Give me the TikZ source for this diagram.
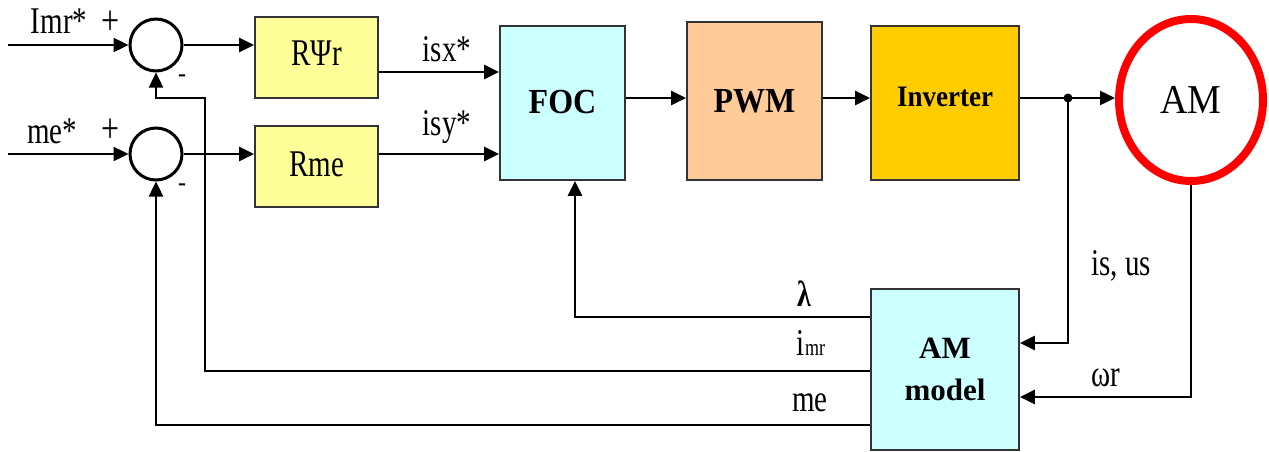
\documentclass[tikz,border=0pt]{standalone}
\usepackage{fontspec}
\usepackage{graphicx}
\setmainfont{Liberation Serif}
\usetikzlibrary{arrows.meta,shapes.geometric,calc}
\definecolor{ybox}{HTML}{FFFF99}
\definecolor{cbox}{HTML}{CCFFFF}
\definecolor{obox}{HTML}{FFCC99}
\definecolor{ibox}{HTML}{FFCC00}
\definecolor{boxline}{HTML}{333333}
\definecolor{amred}{HTML}{FF0000}
\newcommand{\stretchtxt}[1]{\scalebox{1}[1.3]{#1}}
\begin{document}
\begin{tikzpicture}[x=1pt,y=-1pt,
  conn/.style={line width=2.4pt, draw=black},
  arr/.style={conn, -{Triangle[length=15pt,width=14pt]}},
  blk/.style={draw=boxline, line width=1.8pt, inner sep=0pt},
  sumc/.style={circle, draw=black, line width=3pt, minimum size=52pt, inner sep=0pt},
  lbl/.style={font=\fontsize{29}{30}\selectfont, inner sep=0pt},
  btxt/.style={font=\bfseries\fontsize{32}{40}\selectfont}]
\useasboundingbox (0,0) rectangle (1269,452);
% summing junctions
\node[sumc] (s1) at (156,45) {};
\node[sumc] (s2) at (156,154) {};
\coordinate (in1) at (8,45);
\coordinate (in2) at (8,154);
% blocks
\node[blk, fill=ybox, minimum width=123pt, minimum height=81pt, lbl] (rpsi) at (316.5,57.5) {\raisebox{8pt}{\stretchtxt{RΨr}}};
\node[blk, fill=ybox, minimum width=123pt, minimum height=81pt, lbl] (rme) at (316.5,166.5) {\raisebox{4pt}{\stretchtxt{Rme}}};
\node[blk, fill=cbox, minimum width=125pt, minimum height=154pt, btxt] (foc) at (562.5,103) {\raisebox{3pt}{\scalebox{1}[1.1]{FOC}}};
\node[blk, fill=obox, minimum width=135pt, minimum height=158pt, btxt] (pwm) at (754.5,101) {\scalebox{1}[1.1]{PWM}};
\node[blk, fill=ibox, minimum width=148pt, minimum height=154pt, font=\bfseries\fontsize{27}{30}\selectfont] (inv) at (945,103) {\raisebox{13pt}{\scalebox{1}[1.1]{Inverter}}};
\node[ellipse, draw=amred, line width=8pt, minimum width=144pt, minimum height=162pt, inner sep=0pt, font=\fontsize{38}{40}\selectfont] (am) at (1191,100) {\scalebox{1}[1.08]{AM}};
\node[blk, fill=cbox, minimum width=148pt, minimum height=161pt, font=\bfseries\fontsize{31}{42}\selectfont, align=center] (ammod) at (945,369.5) {AM\\model};
\node[circle, fill=black, inner sep=0pt, minimum size=9pt] (junc) at (1068,98) {};
% forward path
\draw[arr] (in1) -- (s1.west);
\draw[arr] (in2) -- (s2.west);
\draw[arr] (s1.east) -- (s1.east -| rpsi.west);
\draw[arr] (s2.east) -- (s2.east -| rme.west);
\coordinate (x1) at ($(rpsi.east)+(0,14.5)$);
\draw[arr] (x1) -- (x1 -| foc.west);
\draw[arr] (s2 -| rme.east) -- (s2 -| foc.west);
\draw[arr] (junc -| foc.east) -- (junc -| pwm.west);
\draw[arr] (junc -| pwm.east) -- (junc -| inv.west);
\draw[conn] (junc -| inv.east) -- (junc.center);
\draw[arr] (junc.center) -- (junc -| am.west);
% feedback
\draw[arr] (junc.center) |- ($(ammod.east)+(0,-26.5)$);
\draw[arr] (am.south) |- ($(ammod.east)+(0,27.5)$);
\draw[arr] ($(ammod.west)+(0,-52.5)$) -| ($(foc.south)+(12.5,0)$);
\coordinate (imrc) at (205,98);
\draw[arr] ($(ammod.west)+(0,1.5)$) -| (imrc) -| (s1.south);
\draw[arr] ($(ammod.west)+(0,55.5)$) -| (s2.south);
% labels
\node[lbl] (limr) at (59,21) {\stretchtxt{Imr*}};
\node[lbl, font=\fontsize{32}{32}\selectfont] (lp1) at (111,23) {\stretchtxt{+}};
\node[lbl] (lme) at (52,131) {\stretchtxt{me*}};
\node[lbl, font=\fontsize{32}{32}\selectfont] (lp2) at (111,131) {\stretchtxt{+}};
\node[lbl, font=\bfseries\fontsize{24}{24}\selectfont] (lm1) at (182,78) {-};
\node[lbl, font=\bfseries\fontsize{24}{24}\selectfont] (lm2) at (182,187) {-};
\node[lbl] (lisx) at (447,49) {\stretchtxt{isx*}};
\node[lbl] (lisy) at (447,127) {\stretchtxt{isy*}};
\node[lbl, font=\bfseries\fontsize{28}{30}\selectfont] (llam) at (804,294) {\stretchtxt{λ}};
\node[lbl] (limr2) at (811,343) {\stretchtxt{i{\fontsize{18}{18}\selectfont mr}}};
\node[lbl] (lme2) at (810,403) {\stretchtxt{me}};
\node[lbl] (lisus) at (1121,266) {\stretchtxt{is, us}};
\node[lbl] (lwr) at (1106,378) {\stretchtxt{ωr}};
\end{tikzpicture}
\end{document}
